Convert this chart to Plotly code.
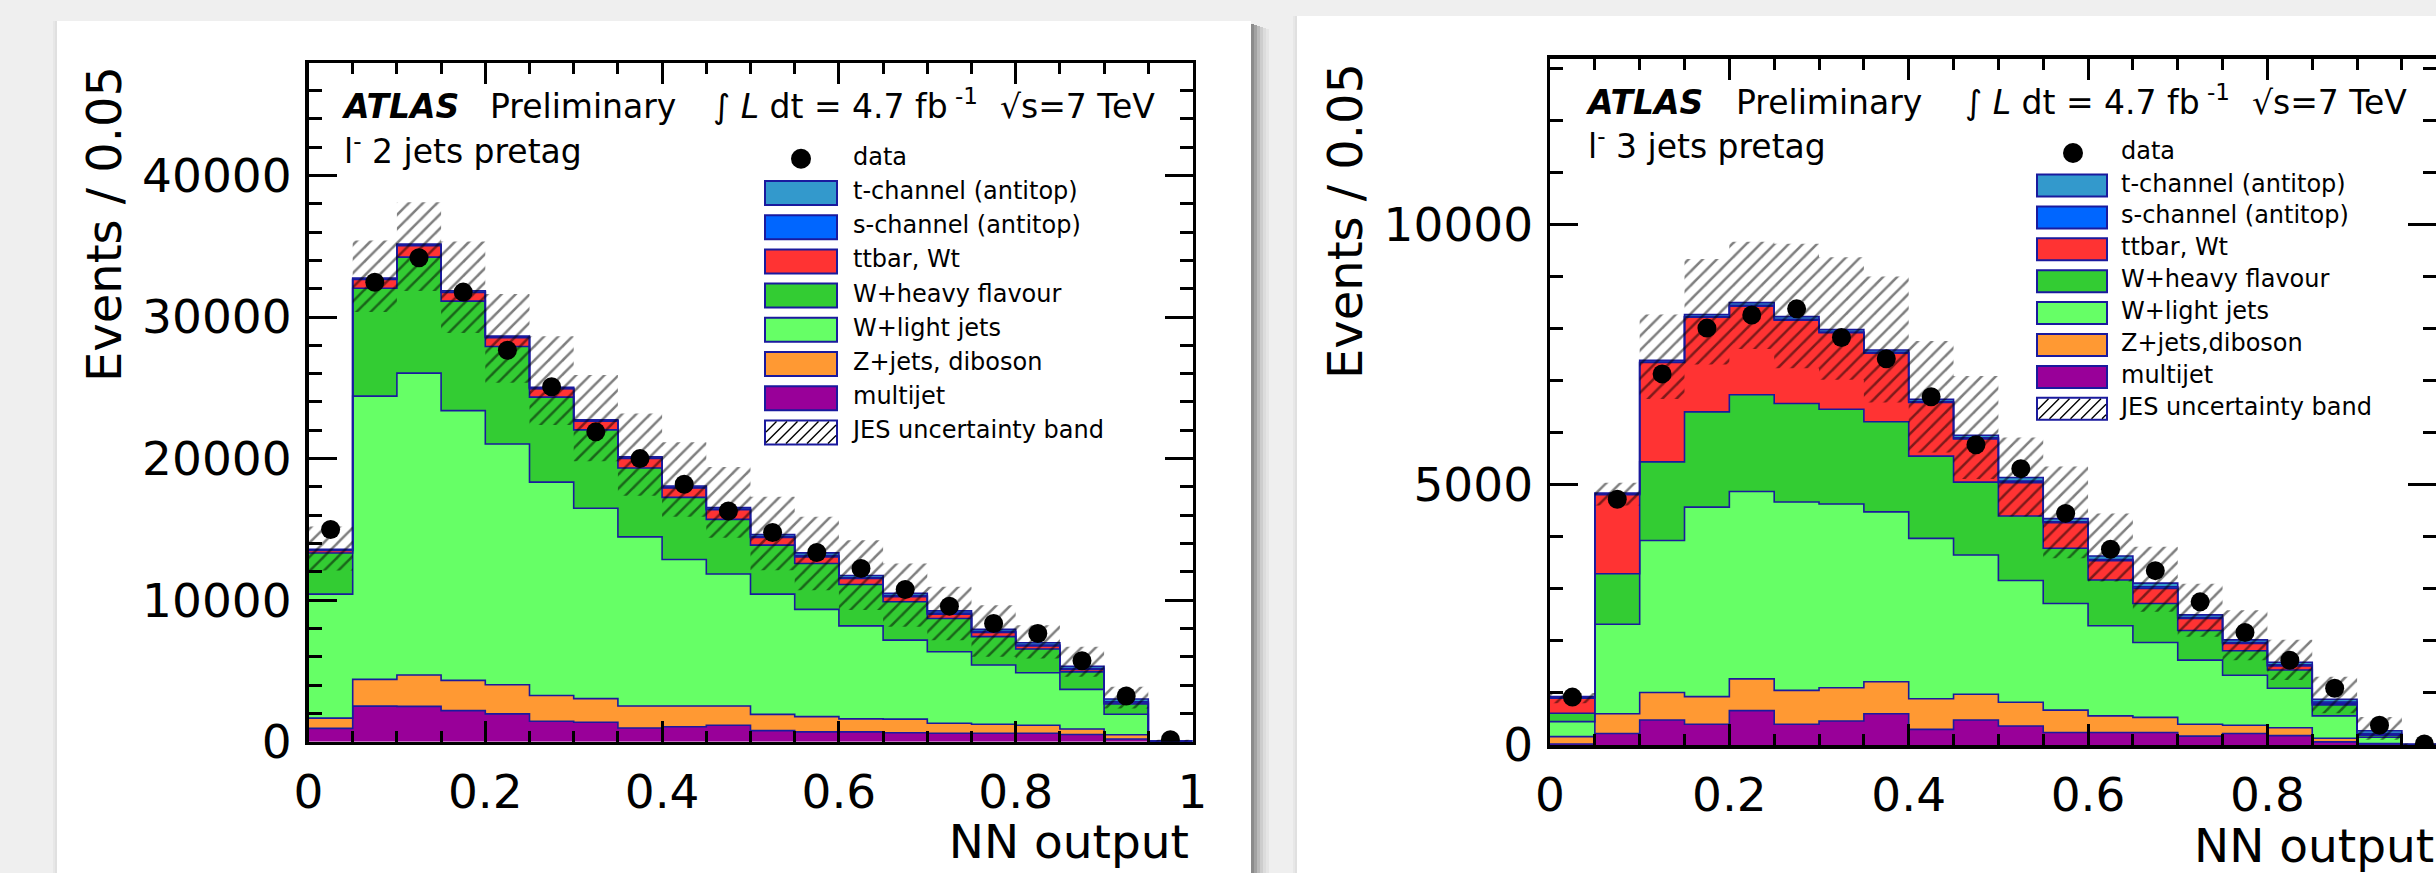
import numpy as np
import plotly.graph_objects as go

W, H = 2436, 873
FONT = "DejaVu Sans"

# ---------------- data ----------------
bin_edges = [round(0.05 * i, 2) for i in range(21)]
bin_centers = [round(0.025 + 0.05 * i, 3) for i in range(20)]

x_tickvals = [0, 0.2, 0.4, 0.6, 0.8, 1.0]
x_ticktext = ["0", "0.2", "0.4", "0.6", "0.8", "1"]

# stack order: bottom -> top
stack_keys = ["multijet", "zjets", "wlight", "whf", "ttbar", "schan", "tchan"]
stack_colors = {"multijet": "#990099", "zjets": "#ff9933", "wlight": "#66ff66",
                "whf": "#33cc33", "ttbar": "#ff3333", "schan": "#0066ff", "tchan": "#3399cc"}

# ---- l- 2 jets pretag ----
multijet_2j = [950, 2520, 2500, 2200, 1970, 1450, 1380, 970, 1060, 1170, 790, 700, 700, 640, 600, 600, 600, 520, 200, 10]
zjets_2j = [720, 1890, 2220, 2140, 2060, 1820, 1670, 1560, 1470, 1360, 1150, 1080, 920, 960, 710, 640, 570, 380, 300, 10]
wlight_2j = [8760, 20000, 21320, 19050, 17000, 15070, 13440, 11940, 10350, 9320, 8490, 7570, 6570, 5580, 5050, 4180, 3710, 2800, 1450, 20]
whf_2j = [2900, 7620, 8190, 7730, 6890, 6000, 5540, 4870, 4380, 3860, 3460, 3240, 2920, 2710, 2350, 2010, 1670, 1240, 720, 20]
ttbar_2j = [180, 620, 810, 620, 620, 590, 620, 670, 670, 680, 540, 470, 420, 350, 310, 300, 220, 170, 70, 5]
schan_2j = [30, 30, 30, 30, 30, 30, 20, 30, 40, 50, 60, 90, 60, 70, 70, 60, 70, 70, 90, 3]
tchan_2j = [60, 80, 80, 80, 80, 80, 70, 80, 100, 110, 150, 190, 160, 170, 160, 150, 160, 160, 190, 5]
data_2j = [15000, 32460, 34190, 31760, 27650, 25080, 21890, 20000, 18190, 16300, 14780, 13370, 12240, 10760, 9580, 8360, 7650, 5720, 3230, 150]
jes_hi_2j = [15200, 35400, 38100, 35340, 31620, 28650, 25900, 23190, 21160, 19410, 17300, 15890, 14240, 12590, 10950, 9650, 8240, 6710, 3880, 150]
jes_lo_2j = [12100, 30350, 31840, 28870, 25350, 22380, 19810, 17380, 15890, 14410, 12120, 10710, 9300, 8120, 7180, 6000, 5890, 4590, 2350, 20]

# ---- l- 3 jets pretag ----
multijet_3j = [20, 220, 480, 400, 660, 400, 460, 600, 300, 480, 365, 240, 240, 240, 170, 220, 180, 60, 20, 0]
zjets_3j = [140, 380, 530, 530, 610, 650, 640, 615, 590, 495, 455, 430, 320, 290, 230, 160, 150, 70, 10, 0]
wlight_3j = [290, 1720, 2920, 3640, 3600, 3620, 3530, 3265, 3080, 2675, 2340, 2050, 1730, 1440, 1230, 960, 760, 430, 120, 5]
whf_3j = [160, 970, 1510, 1830, 1860, 1890, 1820, 1730, 1580, 1400, 1240, 1060, 880, 750, 570, 470, 350, 210, 40, 3]
ttbar_3j = [290, 1520, 1910, 1820, 1700, 1600, 1470, 1320, 1030, 830, 640, 490, 370, 290, 230, 140, 80, 30, 10, 2]
schan_3j = [10, 10, 10, 10, 20, 20, 15, 15, 15, 20, 30, 20, 25, 30, 20, 20, 20, 25, 20, 1]
tchan_3j = [20, 20, 30, 40, 50, 50, 45, 45, 45, 50, 70, 60, 65, 70, 50, 50, 50, 55, 55, 1]
data_3j = [920, 4720, 7130, 8010, 8260, 8380, 7830, 7420, 6690, 5770, 5310, 4450, 3760, 3350, 2750, 2160, 1630, 1090, 380, 20]
jes_hi_3j = [1000, 5040, 8270, 9340, 9670, 9630, 9370, 9000, 7760, 7090, 5910, 5350, 4450, 3810, 3100, 2590, 2020, 1310, 540, 30]
jes_lo_3j = [800, 4600, 6650, 7310, 7610, 7240, 7020, 6580, 5620, 5110, 4390, 3590, 3140, 2560, 2080, 1630, 1250, 610, 100, 0]

legend_labels_2j = ["t-channel (antitop)", "s-channel (antitop)", "ttbar, Wt", "W+heavy flavour",
                    "W+light jets", "Z+jets, diboson", "multijet", "JES uncertainty band"]
legend_labels_3j = ["t-channel (antitop)", "s-channel (antitop)", "ttbar, Wt", "W+heavy flavour",
                    "W+light jets", "Z+jets,diboson", "multijet", "JES uncertainty band"]
legend_colors = [stack_colors["tchan"], stack_colors["schan"], stack_colors["ttbar"], stack_colors["whf"],
                 stack_colors["wlight"], stack_colors["zjets"], stack_colors["multijet"], None]

panels = [
    dict(stack={"multijet": multijet_2j, "zjets": zjets_2j, "wlight": wlight_2j, "whf": whf_2j,
                "ttbar": ttbar_2j, "schan": schan_2j, "tchan": tchan_2j},
         data=data_2j, hi=jes_hi_2j, lo=jes_lo_2j, region="l<sup>-</sup> 2 jets pretag",
         y_tickvals=[0, 10000, 20000, 30000, 40000], y_minor=2000, y_max=47940, x_max=1.0,
         px_left=308.5, px_right=1192.5, px_top=63, px_bottom=741.8,
         legend_labels=legend_labels_2j,
         leg=dict(box_x0=765, box_x1=837, text_x=853, data_y=158.7, y0=193, dy=34.2, bh=24, mk_x=801),
         txt=dict(atlas_x=344, atlas_y=110, prelim_x=490, lumi_x=713, sqrt_x=1000, reg_y=155),
         ytitle=(104, 224), xtitle=(1189, 846, "middle left")),
    dict(stack={"multijet": multijet_3j, "zjets": zjets_3j, "wlight": wlight_3j, "whf": whf_3j,
                "ttbar": ttbar_3j, "schan": schan_3j, "tchan": tchan_3j},
         data=data_3j, hi=jes_hi_3j, lo=jes_lo_3j, region="l<sup>-</sup> 3 jets pretag",
         y_tickvals=[0, 5000, 10000], y_minor=1000, y_max=13190, x_max=0.988,
         px_left=1550, px_right=2436, px_top=58.5, px_bottom=745,
         legend_labels=legend_labels_3j,
         leg=dict(box_x0=2037, box_x1=2107, text_x=2121, data_y=153, y0=185.5, dy=31.9, bh=22, mk_x=2073),
         txt=dict(atlas_x=1588, atlas_y=106, prelim_x=1736, lumi_x=1965, sqrt_x=2252, reg_y=150),
         ytitle=(1345, 221), xtitle=(2194, 850, "middle right")),
]


def PX(x):
    return x / W


def PY(y):
    return 1 - y / H


NAVY = "#1a1a9e"
fig = go.Figure()
shapes = []
annotations = []

# page cards and their shadows
shapes.append(dict(type="rect", xref="paper", yref="paper", x0=PX(57), x1=PX(1251), y0=0, y1=PY(21),
                   fillcolor="white", line_width=0, layer="below"))
shapes.append(dict(type="rect", xref="paper", yref="paper", x0=PX(1297), x1=1, y0=0, y1=PY(16),
                   fillcolor="white", line_width=0, layer="below"))
for i, a in enumerate([0.42, 0.32, 0.22, 0.14, 0.08, 0.04]):
    shapes.append(dict(type="rect", xref="paper", yref="paper", x0=PX(1251 + 3 * i), x1=PX(1254 + 3 * i),
                       y0=0, y1=PY(24 + i), fillcolor=f"rgba(0,0,0,{a})", line_width=0, layer="below"))
for i, a in enumerate([0.06, 0.03]):
    shapes.append(dict(type="rect", xref="paper", yref="paper", x0=PX(55 - 2 * i), x1=PX(57 - 2 * i),
                       y0=0, y1=PY(21), fillcolor=f"rgba(0,0,0,{a})", line_width=0, layer="below"))
    shapes.append(dict(type="rect", xref="paper", yref="paper", x0=PX(1295 - 2 * i), x1=PX(1297 - 2 * i),
                       y0=0, y1=PY(16), fillcolor=f"rgba(0,0,0,{a})", line_width=0, layer="below"))


def hatch_path(x0, y0, x1, y1, step=10.0):
    h = y1 - y0
    parts = []
    c = x0 - h
    while c < x1:
        t0 = max(0.0, (x0 - c) / h)
        t1 = min(1.0, (x1 - c) / h)
        if t1 > t0:
            xa, ya = c + t0 * h, y1 - t0 * h
            xb, yb = c + t1 * h, y1 - t1 * h
            parts.append(f"M{PX(xa):.5f},{PY(ya):.5f} L{PX(xb):.5f},{PY(yb):.5f}")
        c += step
    return " ".join(parts)


def step_y(vals):
    v = list(vals)
    return v + [v[-1]]


text_items = []


def ptxt(x, y, text, size, pos="middle right"):
    text_items.append((x, y, text, size, pos))


for k, p in enumerate(panels):
    xa = "x" if k == 0 else "x2"
    ya = "y" if k == 0 else "y2"
    cum = np.zeros(20)
    for j, key in enumerate(stack_keys):
        cum = cum + np.array(p["stack"][key], dtype=float)
        fig.add_trace(go.Scatter(
            x=bin_edges, y=step_y(cum), xaxis=xa, yaxis=ya, mode="lines",
            line=dict(shape="hv", color=NAVY, width=1.6),
            fill="tozeroy" if j == 0 else "tonexty", fillcolor=stack_colors[key],
            hoverinfo="skip", showlegend=False))
    # JES uncertainty band
    fig.add_trace(go.Scatter(x=bin_edges, y=step_y(p["lo"]), xaxis=xa, yaxis=ya, mode="lines",
                             line=dict(shape="hv", width=0, color="rgba(0,0,0,0)"),
                             hoverinfo="skip", showlegend=False))
    fig.add_trace(go.Scatter(x=bin_edges, y=step_y(p["hi"]), xaxis=xa, yaxis=ya, mode="lines",
                             line=dict(shape="hv", width=0, color="rgba(0,0,0,0)"),
                             fill="tonexty", fillcolor="rgba(0,0,0,0)",
                             fillpattern=dict(shape="/", fgcolor="black", bgcolor="rgba(0,0,0,0)",
                                              size=10, solidity=0.25, fillmode="overlay"),
                             hoverinfo="skip", showlegend=False))
    # data points
    fig.add_trace(go.Scatter(x=bin_centers, y=p["data"], xaxis=xa, yaxis=ya, mode="markers",
                             marker=dict(symbol="circle", size=19, color="black"),
                             hoverinfo="skip", showlegend=False))

    xdom = [PX(p["px_left"]), min(1.0, PX(p["px_right"]))]
    ydom = [PY(p["px_bottom"]), PY(p["px_top"])]
    axis_common = dict(showline=True, linecolor="black", linewidth=3.5, mirror="ticks",
                       ticks="inside", tickcolor="black", tickwidth=3, showgrid=False, zeroline=False,
                       automargin=False,
                       tickfont=dict(family=FONT, size=47, color="black"))
    xkw = dict(axis_common, domain=xdom, range=[0, p["x_max"]], tickmode="array",
               tickvals=x_tickvals, ticktext=x_ticktext, ticklen=21, anchor=ya,
               minor=dict(ticks="inside", ticklen=11, tickwidth=3, tickcolor="black", dtick=0.05, tick0=0),
               ticklabelstandoff=6)
    ykw = dict(axis_common, domain=ydom, range=[0, p["y_max"]], tickmode="array",
               tickvals=p["y_tickvals"], ticktext=[str(v) for v in p["y_tickvals"]], ticklen=28, anchor=xa,
               minor=dict(ticks="inside", ticklen=13, tickwidth=3, tickcolor="black", dtick=p["y_minor"], tick0=0),
               ticklabelstandoff=4)
    if k == 0:
        fig.update_layout(xaxis=xkw, yaxis=ykw)
    else:
        fig.update_layout(xaxis2=xkw, yaxis2=ykw)

    t = p["txt"]
    ptxt(t["atlas_x"], t["atlas_y"], "<b><i>ATLAS</i></b>", 33)
    ptxt(t["prelim_x"], t["atlas_y"], "Preliminary", 33)
    ptxt(t["lumi_x"], t["atlas_y"], "∫ <i>L</i> dt = 4.7 fb<sup> -1</sup>", 33)
    ptxt(t["sqrt_x"], t["atlas_y"], "√s=7 TeV", 33)
    ptxt(t["atlas_x"], t["reg_y"], p["region"], 33)
    ptxt(p["xtitle"][0], p["xtitle"][1], "NN output", 47, p["xtitle"][2])
    annotations.append(dict(xref="paper", yref="paper", x=PX(p["ytitle"][0]), y=PY(p["ytitle"][1]),
                            xanchor="center", yanchor="middle", showarrow=False, textangle=-90,
                            text="Events / 0.05", font=dict(family=FONT, size=48, color="black")))

    # legend
    L = p["leg"]
    r = 10
    shapes.append(dict(type="circle", xref="paper", yref="paper", x0=PX(L["mk_x"] - r), x1=PX(L["mk_x"] + r),
                       y0=PY(L["data_y"] + r), y1=PY(L["data_y"] - r), fillcolor="black", line_width=0))
    ptxt(L["text_x"], L["data_y"], "data", 24)
    for i, (lab, col) in enumerate(zip(p["legend_labels"], legend_colors)):
        yc = L["y0"] + i * L["dy"]
        y0b, y1b = yc - L["bh"] / 2, yc + L["bh"] / 2
        shapes.append(dict(type="rect", xref="paper", yref="paper", x0=PX(L["box_x0"]), x1=PX(L["box_x1"]),
                           y0=PY(y1b), y1=PY(y0b), fillcolor=col if col else "white",
                           line=dict(color=NAVY, width=2)))
        if col is None:
            shapes.append(dict(type="path", xref="paper", yref="paper",
                               path=hatch_path(L["box_x0"] + 1, y0b + 1, L["box_x1"] - 1, y1b - 1, 10.5),
                               line=dict(color="black", width=1.4)))
        ptxt(L["text_x"], yc, lab, 24)

# text labels on a full-page overlay axis in pixel coordinates
groups = {}
for (x, y, s, size, pos) in text_items:
    groups.setdefault((size, pos), []).append((x, y, s))
for (size, pos), items in groups.items():
    fig.add_trace(go.Scatter(x=[it[0] for it in items], y=[it[1] for it in items],
                             text=[it[2] for it in items], mode="text", textposition=pos,
                             textfont=dict(family=FONT, size=size, color="black"),
                             xaxis="x3", yaxis="y3", hoverinfo="skip", showlegend=False, cliponaxis=False))

fig.update_layout(
    xaxis3=dict(domain=[0, 1], range=[0, W], visible=False, fixedrange=True, anchor="y3", automargin=False),
    yaxis3=dict(domain=[0, 1], range=[H, 0], visible=False, fixedrange=True, anchor="x3", automargin=False),
    width=W, height=H, autosize=False, margin=dict(l=0, r=0, t=0, b=0, pad=0, autoexpand=False),
    paper_bgcolor="#efefef", plot_bgcolor="rgba(0,0,0,0)", showlegend=False,
    shapes=shapes, annotations=annotations)

fig.write_html("out.html", config={"responsive": False, "displayModeBar": False, "staticPlot": True},
               post_script="document.body.style.margin='0';document.body.style.padding='0';"
                           "document.body.style.overflow='hidden';"
                           "document.documentElement.style.overflow='hidden';")
